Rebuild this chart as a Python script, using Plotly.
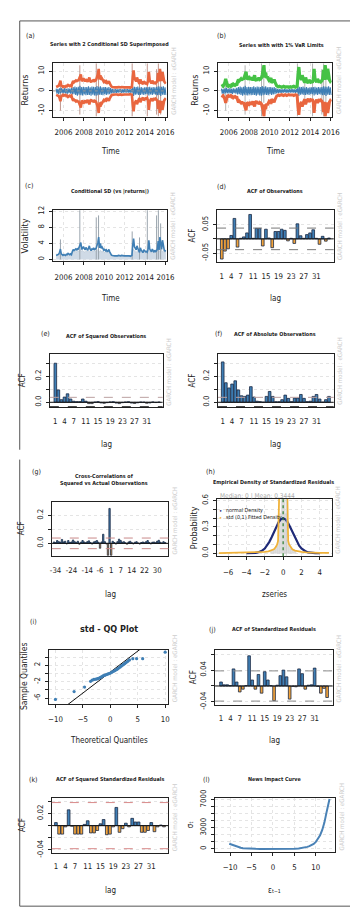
import pandas as pd
import plotly.graph_objects as go

W, H = 358, 914
FONT = "Liberation Sans Narrow, DejaVu Sans Condensed, Liberation Sans, Arial, sans-serif"

# ------------------------------------------------------------------ DATA
# monthly conditional SD (Mar 2005 .. Dec 2015)
sigma = [1.0, 1.1, 1.0, 1.3, 1.8, 2.6, 1.4, 1.1, 1.0, 1.2,
         1.1, 1.0, 1.3, 1.2, 1.5, 1.3, 1.2, 1.4, 1.2, 2.0, 2.5, 2.2,
         2.4, 2.6, 2.3, 2.8, 2.5, 3.0, 3.6, 4.2, 2.5, 2.7, 3.2, 2.6,
         2.4, 3.0, 2.6, 2.3, 2.8, 3.4, 2.5, 2.2, 2.7, 2.4, 2.9, 2.5,
         2.6, 2.8, 3.5, 4.2, 5.6, 2.9, 4.0, 2.8, 3.1, 2.6, 2.3, 2.5,
         2.2, 2.4, 2.0, 2.1, 2.5, 1.9, 1.4, 1.1, 1.0, 0.9, 1.0, 0.9,
         0.9, 0.8, 0.9, 1.0, 0.9, 0.8, 0.9, 1.0, 0.9, 0.8, 0.9, 0.9,
         0.8, 0.9, 0.9, 1.0, 0.9, 0.8, 0.9, 1.0, 3.5, 5.2, 3.2, 2.6,
         2.4, 3.4, 2.6, 2.2, 1.8, 2.9, 2.3, 2.0, 1.7, 2.4, 2.1, 1.9,
         2.0, 1.8, 2.5, 4.8, 2.6, 2.2, 1.9, 2.6, 2.1, 1.8, 2.3, 2.0,
         2.2, 2.6, 4.6, 2.4, 5.6, 3.6, 2.5, 4.8, 3.0, 2.4, 2.1, 2.3]
returns = [1.2, -1.4, 1.0, -1.6, 1.3, -1.1, 1.5, -1.2, 1.1, -1.3,
           1.4, -1.2, 1.0, -1.5, 1.3, -1.1, 1.2, -1.4, 1.6, -1.8, 2.0, -1.7,
           2.2, -2.0, 1.8, -2.4, 2.1, -1.9, 2.6, -2.2, 2.0, -2.3, 2.1, -1.8,
           2.0, -2.2, 1.9, -2.1, 2.3, -2.0, 1.8, -2.4, 2.2, -1.9, 2.1, -2.3,
           2.0, -2.4, 2.5, -2.2, 2.1, -1.9, 2.3, -2.0, 1.8, -2.2, 2.0, -1.7,
           1.9, -2.1, 1.7, -1.8, 2.0, -1.6, 1.4, -1.2, 1.0, -1.1, 0.9, -1.0,
           0.9, -1.0, 0.8, -0.9, 1.0, -0.8, 0.9, -1.0, 0.8, -0.9, 1.0, -0.9,
           0.9, -0.8, 1.0, -0.9, 0.8, -1.0, 0.9, -0.8, 2.2, -2.5, 2.1, -1.9,
           2.0, -1.8, 2.2, -2.0, 1.7, -2.1, 1.9, -1.8, 1.6, -2.0, 1.8, -1.7,
           1.8, -1.6, 2.0, -2.3, 2.1, -1.8, 1.7, -2.0, 1.9, -1.6, 1.8, -1.9,
           2.0, -2.2, 2.4, -2.0, 2.2, -2.5, 2.1, -1.9, 2.3, -2.0, 1.8, -2.1]
series_start = "2005-03-15"

spike_dates = ["2005-09-15", "2007-08-10", "2009-03-20", "2009-06-10", "2012-09-25",
               "2013-06-15", "2014-03-20", "2015-02-15", "2015-04-20", "2015-07-10"]
spike_up = [3.0, 13.0, 14.0, 11.0, 14.0, 6.0, 14.0, 11.0, 14.0, 10.0]
spike_down = [-10.0, -12.0, -13.0, -6.0, -13.0, -4.0, -13.0, -12.0, -13.0, -12.0]
spike_abs = [5.0, 12.5, 10.5, 11.0, 7.0, 5.5, 12.8, 11.0, 12.5, 9.0]
var_quantile = 2.33

acf_lags = list(range(1, 36))
acf_obs = [-0.071, -0.043, -0.035, 0.012, 0.072, -0.029, 0.002, 0.007, 0.021, 0.086,
           0.002, 0.037, 0.037, -0.025, 0.034, 0.003, -0.031, 0.026, 0.026, 0.034,
           0.030, -0.007, 0.002, -0.016, 0.053, 0.011, 0.002, 0.015, 0.021, 0.032,
           0.002, -0.019, 0.009, -0.008, 0.003]
acf_sq = [0.30, 0.095, 0.02, 0.04, 0.065, 0.025, 0.008, 0.005, 0.005, 0.025,
          0.008, -0.01, -0.01, 0.002, 0.005, -0.005, -0.008, -0.003, 0.003, 0.004,
          -0.006, -0.01, -0.003, 0.002, 0.004, -0.006, -0.009, -0.004, 0.002, 0.001,
          -0.007, -0.005, 0.003, -0.002, 0.002]
acf_abs = [0.31, 0.15, 0.11, 0.14, 0.165, 0.095, 0.05, 0.045, 0.055, 0.12,
           0.04, 0.008, 0.005, 0.001, 0.045, 0.083, 0.045, 0.004, 0.004, 0.02,
           0.055, 0.03, 0.005, 0.032, 0.032, 0.06, 0.03, 0.005, 0.008, 0.045,
           0.06, 0.025, 0.001, 0.02, 0.045]
ccf_lags = list(range(-35, 36))
ccf_vals = [0.010, 0.005, 0.020, 0.012, 0.008, 0.028, 0.010, 0.015, -0.004, 0.020,
            0.006, 0.010, 0.024, 0.012, 0.005, 0.015, -0.006, 0.008, 0.020, 0.010,
            0.004, 0.012, 0.018, 0.006, -0.005, 0.010, 0.014, 0.020, 0.008,
            -0.035, 0.010, 0.065, 0.012, -0.004, -0.085, 0.250, -0.085, 0.015, 0.006,
            -0.005, 0.012, 0.030,
            0.020, 0.008, 0.012, 0.004, -0.006, 0.010, 0.015, 0.005, -0.004, 0.008,
            0.012, 0.003, -0.005, 0.006, 0.010, 0.004, 0.012, 0.020, 0.006, -0.004,
            0.008, 0.010, 0.004, 0.015, 0.022, 0.008, 0.003, 0.012, 0.006]
acf_res = [0.010, 0.003, 0.003, 0.001, 0.043, 0.010, -0.015, -0.008, 0.001, 0.076,
           0.015, -0.008, 0.029, -0.018, 0.036, 0.015, 0.001, -0.037, 0.002, 0.026,
           0.040, 0.023, -0.033, -0.001, -0.002, 0.043, 0.031, -0.008, 0.002, 0.003,
           0.045, -0.001, -0.018, -0.006, -0.029]
acf_sq_res = [0.005, -0.014, -0.014, -0.002, 0.026, -0.001, -0.014, -0.014, -0.014, 0.002,
              0.008, -0.012, -0.012, -0.008, 0.003, 0.010, -0.015, -0.014, -0.002, 0.030,
              -0.011, -0.005, 0.004, -0.002, 0.012, 0.006, 0.006, -0.011, -0.011, -0.008,
              0.005, -0.010, -0.002, 0.001, -0.002]
conf_limit = 0.038
acf_ticks = [1, 4, 7, 11, 15, 19, 23, 27, 31]
ccf_ticks = [-34, -24, -14, -6, 1, 7, 14, 22, 30]

dens_norm_x = [-4.0, -3.75, -3.5, -3.25, -3.0, -2.75, -2.5, -2.25, -2.0, -1.75, -1.5, -1.25,
               -1.0, -0.75, -0.5, -0.25, 0.0, 0.25, 0.5, 0.75, 1.0, 1.25, 1.5, 1.75,
               2.0, 2.25, 2.5, 2.75, 3.0, 3.25, 3.5, 3.75, 4.0]
dens_norm_y = [0.000, 0.000, 0.001, 0.002, 0.004, 0.009, 0.018, 0.032, 0.054, 0.086, 0.130, 0.183,
               0.242, 0.301, 0.352, 0.387, 0.399, 0.387, 0.352, 0.301, 0.242, 0.183, 0.130, 0.086,
               0.054, 0.032, 0.018, 0.009, 0.004, 0.002, 0.001, 0.000, 0.000]
dens_std_x = [-7.0, -6.0, -5.0, -4.0, -3.0, -2.5, -2.0, -1.6, -1.3, -1.0, -0.8, -0.65, -0.55,
              -0.5, -0.45, -0.3, 0.0, 0.3, 0.45, 0.5, 0.55, 0.65, 0.8, 1.0, 1.3, 1.6, 2.0,
              2.5, 3.0, 4.0, 5.0]
dens_std_y = [0.002, 0.003, 0.004, 0.005, 0.007, 0.010, 0.015, 0.022, 0.030, 0.045, 0.070, 0.100, 0.140,
              0.300, 0.700, 1.200, 1.500, 1.200, 0.700, 0.300, 0.140, 0.100, 0.070, 0.045, 0.030, 0.022, 0.015,
              0.010, 0.007, 0.005, 0.004]
hist_x = [-1.3, -1.1, -0.9, -0.7, -0.5, -0.3, -0.1, 0.1, 0.3, 0.5, 0.7, 0.9, 1.1, 1.3]
hist_y = [0.02, 0.03, 0.05, 0.08, 0.15, 0.45, 1.2, 1.2, 0.45, 0.15, 0.08, 0.05, 0.03, 0.02]
median_val = 0.0
mean_val = 0.3444

qq_theo = [-10.0, -6.6, -4.7, -3.6, -3.3, -3.0, -2.8, -2.6, -2.4, -2.2, -2.0, -1.8, -1.6, -1.4,
           -1.2, -1.0, -0.8, -0.6, -0.4, -0.2, 0.0, 0.2, 0.4, 0.6, 0.8, 1.0, 1.2, 1.4, 1.6,
           1.8, 2.0, 2.2, 2.4, 2.6, 2.8, 3.0, 3.2, 3.5, 4.1, 4.8, 5.9, 10.0]
qq_samp = [-6.3, -4.4, -3.3, -1.9, -1.6, -1.45, -1.4, -1.35, -1.3, -1.2, -1.1, -0.95, -0.8, -0.65,
           -0.5, -0.4, -0.3, -0.2, -0.1, 0.0, 0.1, 0.25, 0.4, 0.55, 0.7, 0.85, 1.0, 1.2, 1.4,
           1.6, 1.8, 2.0, 2.2, 2.4, 2.6, 2.8, 3.0, 3.3, 3.6, 3.6, 3.6, 5.2]
qq_line_x = [-12.0, 12.0]
qq_line_y = [-11.9, 12.6]

nic_x = [-10.2, -9.5, -9, -8.5, -8, -7.5, -7, -6, -5, -4, -3, -2, -1, 0, 1, 2, 3, 4, 5, 6, 7,
         7.5, 8, 8.5, 9, 9.5, 10, 10.5, 11, 11.5, 12, 12.5, 13, 13.2]
nic_y = [750, 580, 470, 360, 260, 180, 120, 60, 30, 15, 8, 4, 2, 1, 2, 4, 8, 15, 35, 80, 160,
         220, 300, 400, 530, 720, 1000, 1400, 1950, 2700, 3750, 5200, 6600, 7100]

# ------------------------------------------------------------------ LAYOUT HELPERS
BLUE = "#3f7fb5"
TOMATO = "#e9663f"
GREEN = "#45c245"
ORANGE = "#f2a33a"
EDGE = "#1c2a44"

boxes = {
    1: (44, 161, 48, 102), 2: (214, 331, 48, 102),
    3: (44, 161, 197, 249), 4: (213, 333, 197, 250),
    5: (41, 157, 343, 397), 6: (214, 333, 343, 397),
    7: (43, 163, 493, 548), 8: (213, 331, 490, 548),
    9: (40, 163, 643, 698), 10: (211, 332, 643, 699),
    11: (43, 163, 793, 849), 12: (211, 334, 793, 848),
}

fig = go.Figure()
layout = {}
annotations = []
shapes = []


def xn(n):
    return "x" if n == 1 else "x%d" % n


def yn(n):
    return "y" if n == 1 else "y%d" % n


def ann(text, x, y, size=7, color="#222", bold=False, angle=0, xa="center", ya="middle"):
    if bold:
        text = "<b>" + text + "</b>"
    annotations.append(dict(text=text, x=x / W, y=1 - y / H, xref="paper", yref="paper",
                            showarrow=False, font=dict(size=size, color=color, family=FONT),
                            textangle=angle, xanchor=xa, yanchor=ya))


def axes(n, xr, yr, xkw=None, ykw=None):
    x0, x1, y0, y1 = boxes[n]
    base = dict(showline=True, linecolor="#222", linewidth=1, mirror=True,
                ticks="outside", ticklen=3, tickwidth=1, tickcolor="#222",
                tickfont=dict(family=FONT, size=7.8, color="#222"),
                showgrid=True, gridcolor="#e4e4e4", griddash="dot", zeroline=False,
                fixedrange=True)
    xa = dict(base, domain=[x0 / W, x1 / W], anchor=yn(n), range=xr, ticklabelstandoff=5)
    ya = dict(base, domain=[1 - y1 / H, 1 - y0 / H], anchor=xn(n), range=yr,
              tickangle=-90, ticklabelstandoff=2)
    if xkw:
        xa.update(xkw)
    if ykw:
        ya.update(ykw)
    key = "" if n == 1 else str(n)
    layout["xaxis" + key] = xa
    layout["yaxis" + key] = ya
    # watermark
    ann("GARCH model : eGARCH", x1 + 6.5, y1, size=6.2, color="#cdcdcd", angle=-90, ya="bottom")


def hline(n, yv, color, width=1, dash="solid"):
    shapes.append(dict(type="line", xref=xn(n) + " domain", x0=0, x1=1, yref=yn(n),
                       y0=yv, y1=yv, line=dict(color=color, width=width, dash=dash)))


def tr(n, trace):
    trace.update(xaxis=xn(n), yaxis=yn(n), showlegend=False, hoverinfo="skip")
    fig.add_trace(trace)


def spikes(dates, lo, hi):
    xs, ys = [], []
    for d, a, b in zip(dates, lo, hi):
        xs += [d, d, None]
        ys += [a, b, None]
    return xs, ys


def pline(x0, y0, x1, y1):
    shapes.append(dict(type="line", xref="paper", yref="paper", x0=x0 / W, x1=x1 / W,
                       y0=1 - y0 / H, y1=1 - y1 / H, line=dict(color="#555", width=1)))


months = pd.date_range(series_start, periods=len(sigma), freq="MS") + pd.Timedelta(days=14)
date_range = ["2004-12-15", "2016-02-05"]
year_ticks = ["%d-01-01" % y for y in range(2006, 2017, 2)]
year_text = [str(y) for y in range(2006, 2017, 2)]
date_x = dict(type="date", tickvals=year_ticks, ticktext=year_text)

# ---------------- (a)
axes(1, date_range, [-13, 14], date_x, dict(tickvals=[-10, 0, 10], ticktext=["-10", "0", "10"]))
sx, sy = spikes(spike_dates, spike_down, spike_up)
tr(1, go.Scatter(x=sx, y=sy, mode="lines", line=dict(color="#b88a80", width=0.9)))
tr(1, go.Scatter(x=months, y=returns, mode="lines", line=dict(color=BLUE, width=1.1)))
tr(1, go.Scatter(x=months, y=[2 * s for s in sigma], mode="lines", line=dict(color=TOMATO, width=2.6)))
tr(1, go.Scatter(x=months, y=[-2 * s for s in sigma], mode="lines", line=dict(color=TOMATO, width=2.6)))
hline(1, 0, "#999", 1, "dot")

# ---------------- (b)
axes(2, date_range, [-13, 14], date_x, dict(tickvals=[-10, 0, 10], ticktext=["-10", "0", "10"]))
tr(2, go.Scatter(x=sx, y=sy, mode="lines", line=dict(color="#a9a9a9", width=0.9)))
tr(2, go.Scatter(x=months, y=returns, mode="lines", line=dict(color=BLUE, width=1.1)))
tr(2, go.Scatter(x=months, y=[-var_quantile * s for s in sigma], mode="lines", line=dict(color=TOMATO, width=3)))
tr(2, go.Scatter(x=months, y=[var_quantile * s for s in sigma], mode="lines", line=dict(color=GREEN, width=3.2)))

# ---------------- (c)
axes(3, date_range, [-0.5, 12.3], date_x, dict(tickvals=[0, 4, 8, 12], ticktext=["0", "4", "8", "12"]))
tr(3, go.Scatter(x=months, y=[abs(v) for v in returns], mode="lines", fill="tozeroy",
                 fillcolor="#cfdae6", line=dict(color="#b8c6d4", width=0.6)))
cx, cy = spikes(spike_dates, [0] * len(spike_abs), spike_abs)
tr(3, go.Scatter(x=cx, y=cy, mode="lines", line=dict(color="#9aa4ad", width=1)))
tr(3, go.Scatter(x=months, y=sigma, mode="lines", line=dict(color=BLUE, width=1.6)))


# ---------------- ACF helper
def acf_panel(n, lagv, vals, xr, yr, ytv, ytt, xticks, conf_col, lower_col=None, lower_w=1):
    nox = dict(tickvals=xticks, ticktext=[str(t) for t in xticks], ticks="", showgrid=False,
               ticklabelstandoff=6)
    axes(n, xr, yr, nox, dict(tickvals=ytv, ticktext=ytt))
    cols = [BLUE if v >= 0 else ORANGE for v in vals]
    tr(n, go.Bar(x=lagv, y=vals, width=0.85, marker=dict(color=cols, line=dict(color=EDGE, width=0.8))))
    hline(n, 0, "#111", 1)
    hline(n, conf_limit, conf_col, 1, "dash")
    hline(n, -conf_limit, lower_col or conf_col, lower_w, "dash")


acf_panel(4, acf_lags, acf_obs, [-0.5, 36.5], [-0.083, 0.101], [-0.05, 0, 0.05],
          ["-0.05", "", "0.05"], acf_ticks, "#777")
acf_panel(5, acf_lags, acf_sq, [-0.8, 36.2], [-0.039, 0.37], [0, 0.1, 0.2, 0.3],
          ["0.0", "", "0.2", ""], acf_ticks, "#bba0a0", "#111", 1.8)
acf_panel(6, acf_lags, acf_abs, [-0.5, 36.5], [-0.039, 0.37], [0, 0.1, 0.2, 0.3],
          ["0.0", "", "0.2", ""], acf_ticks, "#bba0a0", "#111", 1.8)
acf_panel(7, ccf_lags, ccf_vals, [-36.4, 37.1], [-0.092, 0.296], [0, 0.1, 0.2],
          ["0.0", "", "0.2"], ccf_ticks, "#c98a8a")
acf_panel(10, acf_lags, acf_res, [-0.9, 36.8], [-0.048, 0.091], [-0.04, 0, 0.04, 0.08],
          ["-0.04", "", "0.04", ""], acf_ticks, "#8a8a8a")
acf_panel(11, acf_lags, acf_sq_res, [-0.3, 36.4], [-0.045, 0.046], [-0.04, -0.02, 0, 0.02, 0.04],
          ["-0.04", "", "", "0.02", ""], acf_ticks, "#d98a8a")

# ---------------- (h) density
axes(8, [-7.2, 5.3], [-0.034, 0.619], dict(tickvals=[-6, -4, -2, 0, 2, 4]),
     dict(tickvals=[0, 0.1, 0.2, 0.3, 0.4, 0.5, 0.6], ticktext=["0.0", "", "", "0.3", "", "", "0.6"]))
tr(8, go.Bar(x=hist_x, y=hist_y, width=0.2, marker=dict(color="#e2e2e2", line=dict(color="#cfcfcf", width=0.5))))
tr(8, go.Scatter(x=dens_norm_x, y=dens_norm_y, mode="lines", line=dict(color="#1f2a78", width=2.2)))
tr(8, go.Scatter(x=dens_std_x, y=dens_std_y, mode="lines", line=dict(color="#f0b23a", width=1.8)))
shapes.append(dict(type="line", xref="x8", x0=median_val, x1=median_val, yref="y8 domain", y0=0, y1=1,
                   line=dict(color="#2a7a2a", width=1.2, dash="dot")))
shapes.append(dict(type="line", xref="x8", x0=mean_val, x1=mean_val, yref="y8 domain", y0=0, y1=1,
                   line=dict(color="#c8c8c8", width=0.8)))

# ---------------- (i) QQ
axes(9, [-11.2, 10.6], [-7.44, 5.76], dict(tickvals=[-10, -5, 0, 5, 10]),
     dict(tickvals=[-6, -4, -2, 0, 2, 4], ticktext=["-6", "", "-2", "", "2", ""]))
tr(9, go.Scatter(x=qq_line_x, y=qq_line_y, mode="lines", line=dict(color="#111", width=1)))
tr(9, go.Scatter(x=qq_theo, y=qq_samp, mode="markers",
                 marker=dict(color=BLUE, size=3.2, line=dict(width=0))))

# ---------------- (l) news impact
axes(12, [-13.5, 14.4], [-420, 7280], dict(tickvals=[-10, -5, 0, 5, 10]),
     dict(tickvals=[0, 1000, 2000, 3000, 4000, 5000, 6000, 7000],
          ticktext=["0", "", "", "3000", "", "", "", "7000"]))
tr(12, go.Scatter(x=nic_x, y=nic_y, mode="lines", line=dict(color="#4a82b6", width=2)))

# ------------------------------------------------------------------ TEXT
TS = 5.4
ann("(a)", 21, 20, 7); ann("Series with 2 Conditional SD Superimposed", 102, 29, TS, bold=True)
ann("(b)", 218, 20, 7); ann("Series with with 1% VaR Limits", 279, 29, TS, bold=True)
ann("(c)", 20, 172, 7); ann("Conditional SD (vs |returns|)", 103, 178, TS, bold=True)
ann("(d)", 218, 173, 7); ann("ACF of Observations", 273, 178, TS, bold=True)
ann("(e)", 37, 323, 7); ann("ACF of Squared Observations", 99, 325, TS, bold=True)
ann("(f)", 214, 323, 7); ann("ACF of Absolute Observations", 273, 323, TS, bold=True)
ann("(g)", 27, 463, 7); ann("Cross-Correlations of", 97, 467, TS, bold=True)
ann("Squared vs Actual Observations", 97, 474, TS, bold=True)
ann("(h)", 206, 463, 7); ann("Empirical Density of Standardized Residuals", 271, 473, TS, bold=True)
ann("Median: 0 | Mean: 0.3444", 214, 487, 6.5, color="#aaaaaa", xa="left")
ann("•", 217, 502, 6, color="#1f2a78")
ann("normal Density", 220, 502, 5.4, xa="left")
ann("•", 217, 509, 6, color="#f0b23a")
ann("std (0,1) Fitted Density", 220, 509, 5.4, xa="left")
ann("(i)", 24, 615, 7); ann("std - QQ Plot", 102, 622, 9, bold=True)
ann("(j)", 208, 623, 7); ann("ACF of Standardized Residuals", 272, 622, TS, bold=True)
ann("(k)", 24, 775, 7); ann("ACF of Squared Standardized Residuals", 103, 775, TS, bold=True)
ann("(l)", 202, 775, 7); ann("News Impact Curve", 272, 775, TS, bold=True)

AT = 9
ann("Time", 103, 137, 8); ann("Time", 273, 137, 8); ann("Time", 103, 287, 8)
ann("lag", 273, 287, 8); ann("lag", 99, 435, 8); ann("lag", 273, 435, 8)
ann("lag", 103, 587, 8); ann("zseries", 272, 587, 8)
ann("Theoretical Quantiles", 102, 735, 8); ann("lag", 272, 735, 8)
ann("lag", 103, 887, 8); ann("εₜ₋₁", 272, 887, 8)
ann("Returns", 15, 75, AT, angle=-90); ann("Returns", 190, 75, AT, angle=-90)
ann("Volatility", 15, 223, AT, angle=-90); ann("ACF", 188, 223, 8, angle=-90)
ann("ACF", 13, 370, 8, angle=-90); ann("ACF", 188, 370, 8, angle=-90)
ann("ACF", 12, 520, 8, angle=-90); ann("Probability", 189, 519, AT, angle=-90)
ann("Sample Quantiles", 15, 670, 8.5, angle=-90); ann("ACF", 189, 671, 8, angle=-90)
ann("ACF", 13, 821, 8, angle=-90); ann("σₜ", 186, 820, 8, angle=-90)

# block frames (top block open at bottom, bottom block open at top)
pline(10, 5, 352, 5); pline(10, 5, 10, 440); pline(352, 5, 352, 440)
pline(10, 450, 10, 903); pline(352, 450, 352, 903); pline(10, 903, 352, 903)

layout.update(width=W, height=H, margin=dict(l=0, r=0, t=0, b=0),
              paper_bgcolor="white", plot_bgcolor="white", showlegend=False,
              annotations=annotations, shapes=shapes, font=dict(family=FONT))
fig.update_layout(**layout)
fig.write_html("out.html")
